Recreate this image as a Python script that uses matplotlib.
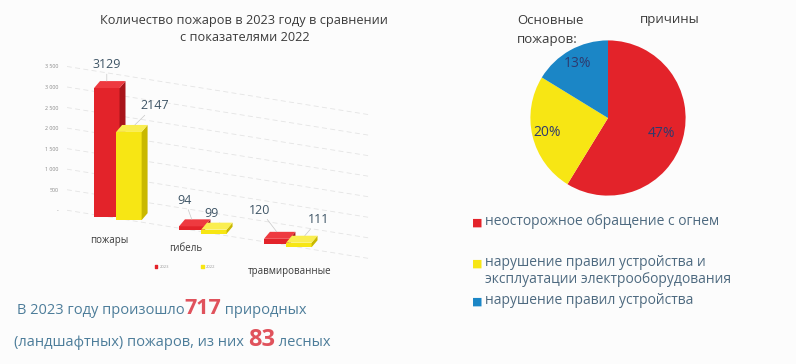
import numpy as np
import matplotlib.pyplot as plt
from matplotlib.patches import Polygon

# data
categories = ['пожары', 'гибель', 'травмированные']
vals_2023 = [3129, 94, 120]
vals_2022 = [2147, 99, 111]
years = ['2023', '2022']
yticks = [0, 500, 1000, 1500, 2000, 2500, 3000, 3500]

causes = ['неосторожное обращение с огнем',
          'нарушение правил устройства и\nэксплуатации электрооборудования',
          'нарушение правил устройства']
cause_pct = [47, 20, 13]

RED = '#e3232a'
RED_DARK = '#a8141a'
RED_TOP = '#ee3a40'
YEL = '#f7e614'
YEL_DARK = '#c9b800'
YEL_TOP = '#faee50'
BLUE = '#1b86c6'
TXT = '#3b3b3b'
LBL = '#4e6a80'

plt.rcParams['font.family'] = ['Open Sans', 'DejaVu Sans']

fig = plt.figure(figsize=(7.96, 3.64), dpi=100)
fig.patch.set_facecolor('#fcfcfc')

# ---- 3D-ish bar chart ----
ax = fig.add_axes([0.084, 0.27, 0.38, 0.57])
ax.set_facecolor('none')
xl, xr = -0.6, 2.96
slope = 330          # perspective drop of the floor per category
ax.set_xlim(xl, xr)
ax.set_ylim(-1350, 3700)
for s in ax.spines.values():
    s.set_visible(False)
ax.set_xticks([])
ax.set_yticks(yticks)
ax.set_yticklabels([f'{v:,}'.replace(',', ' ') if v else '-' for v in yticks],
                   fontsize=3.8, color='#888888')
ax.tick_params(axis='y', length=0, pad=6)


def floor(x):
    return -slope * (x - xl)


# slanted dashed gridlines
for v in yticks:
    ax.plot([xl, xr], [v, v + floor(xr)], ls=(0, (6, 4)), lw=0.6,
            color='#e4e4e4', zorder=0)

x = np.arange(len(categories))
w = 0.3
dx, dy = 0.07, 170


def bar3d(cx, h, front, side, top):
    b = floor(cx)
    ax.bar(cx, h, width=w, bottom=b, color=front, zorder=3)
    r = cx + w / 2
    l = cx - w / 2
    ax.add_patch(Polygon([(r, b), (r, b + h), (r + dx, b + h + dy), (r + dx, b + dy)],
                         closed=True, facecolor=side, edgecolor='none', zorder=3))
    ax.add_patch(Polygon([(l, b + h), (r, b + h), (r + dx, b + h + dy), (l + dx, b + h + dy)],
                         closed=True, facecolor=top, edgecolor='none', zorder=3))
    return b + h + dy


off_2023 = [(0, 7), (-5, 9), (-12, 11)]
off_2022 = [(14, 9), (-6, 2), (10, 7)]
for i in range(len(categories)):
    xr_ = x[i] - w / 2 + 0.02
    xy_ = x[i] + w / 2 - 0.02
    t1 = bar3d(xr_, vals_2023[i], RED, RED_DARK, RED_TOP)
    t2 = bar3d(xy_, vals_2022[i], YEL, YEL_DARK, YEL_TOP)
    ax.annotate(str(vals_2023[i]), (xr_, t1), xytext=off_2023[i], textcoords='offset points',
                ha='center', va='bottom', fontsize=9, color='#3f5566', zorder=5,
                arrowprops=dict(arrowstyle='-', color='#c8c8c8', lw=0.5, shrinkA=0, shrinkB=0))
    ax.annotate(str(vals_2022[i]), (xy_ + dx, t2), xytext=off_2022[i], textcoords='offset points',
                ha='center', va='bottom', fontsize=9, color='#3f5566', zorder=5,
                arrowprops=dict(arrowstyle='-', color='#c8c8c8', lw=0.5, shrinkA=0, shrinkB=0))

# category labels under each group, following the slanted floor
lab_dx = [-0.1, -0.2, 0.02]
lab_dy = [12, 8, 15]
for i, c in enumerate(categories):
    ax.annotate(c, (x[i] + lab_dx[i], floor(x[i])), xytext=(0, -lab_dy[i]), textcoords='offset points',
                ha='center', va='top', fontsize=7, color=TXT)

# tiny legend
ax.scatter([0.45, 1.0], [-1370, -1370], marker='s', s=4, color=[RED, YEL], clip_on=False)
for xp, yr in zip([0.49, 1.04], years):
    ax.text(xp, -1370, yr, fontsize=3, color='#999999', va='center')

fig.text(0.307, 1 - 29 / 364, 'Количество пожаров в 2023 году в сравнении\nс показателями 2022',
         ha='center', va='center', fontsize=9.2, color=TXT, linespacing=1.45)

# ---- pie chart ----
ax2 = fig.add_axes([(608 - 80) / 796, 1 - (118 + 80) / 364, 160 / 796, 160 / 364])
wedges, _ = ax2.pie(cause_pct, colors=[RED, YEL, BLUE], startangle=90,
                    counterclock=False, radius=0.97)
ax2.set_xlim(-1, 1)
ax2.set_ylim(-1, 1)
label_r = [0.7, 0.78, 0.78]
for wdg, p, r in zip(wedges, cause_pct, label_r):
    ang = np.deg2rad((wdg.theta1 + wdg.theta2) / 2)
    ax2.text(r * np.cos(ang), r * np.sin(ang), f'{p}%', ha='center', va='center',
             fontsize=10, color='#2e3a6e')

fig.text(517 / 796, 1 - 20 / 364, 'Основные', fontsize=9.5, color=TXT, va='center')
fig.text(640 / 796, 1 - 20 / 364, 'причины', fontsize=9.5, color=TXT, va='center')
fig.text(517 / 796, 1 - 39 / 364, 'пожаров:', fontsize=9.5, color=TXT, va='center')

leg_y = [223, 264, 302]
for c, col, yy in zip(causes, [RED, YEL, BLUE], leg_y):
    fig.text(472 / 796, 1 - yy / 364, '■', fontsize=8, color=col, va='center')
    fig.text(485 / 796, 1 - (yy - 9) / 364, c, fontsize=10, color=LBL,
             va='top', linespacing=1.2)

# ---- bottom note with highlighted numbers ----
NOTE = '#4d7d9a'
NUM = '#e0525c'
rend = fig.canvas.get_renderer()


def run_text(x0, y0, parts):
    # parts: list of (text, size, weight, color) drawn one after another
    xp = x0
    for s, size, wt, col in parts:
        t = fig.text(xp, y0, s, fontsize=size, fontweight=wt, color=col, va='baseline')
        xp = t.get_window_extent(rend).x1 / fig.bbox.width


run_text(17 / 796, 1 - 314 / 364,
         [('В 2023 году произошло', 10.5, 'normal', NOTE),
          ('717', 15.5, 'bold', NUM),
          (' природных', 10.5, 'normal', NOTE)])
run_text(14 / 796, 1 - 346 / 364,
         [('(ландшафтных) пожаров, из них ', 10.5, 'normal', NOTE),
          ('83', 17, 'bold', NUM),
          (' лесных', 10.5, 'normal', NOTE)])

fig.savefig('out.png', dpi=100, facecolor=fig.get_facecolor())
